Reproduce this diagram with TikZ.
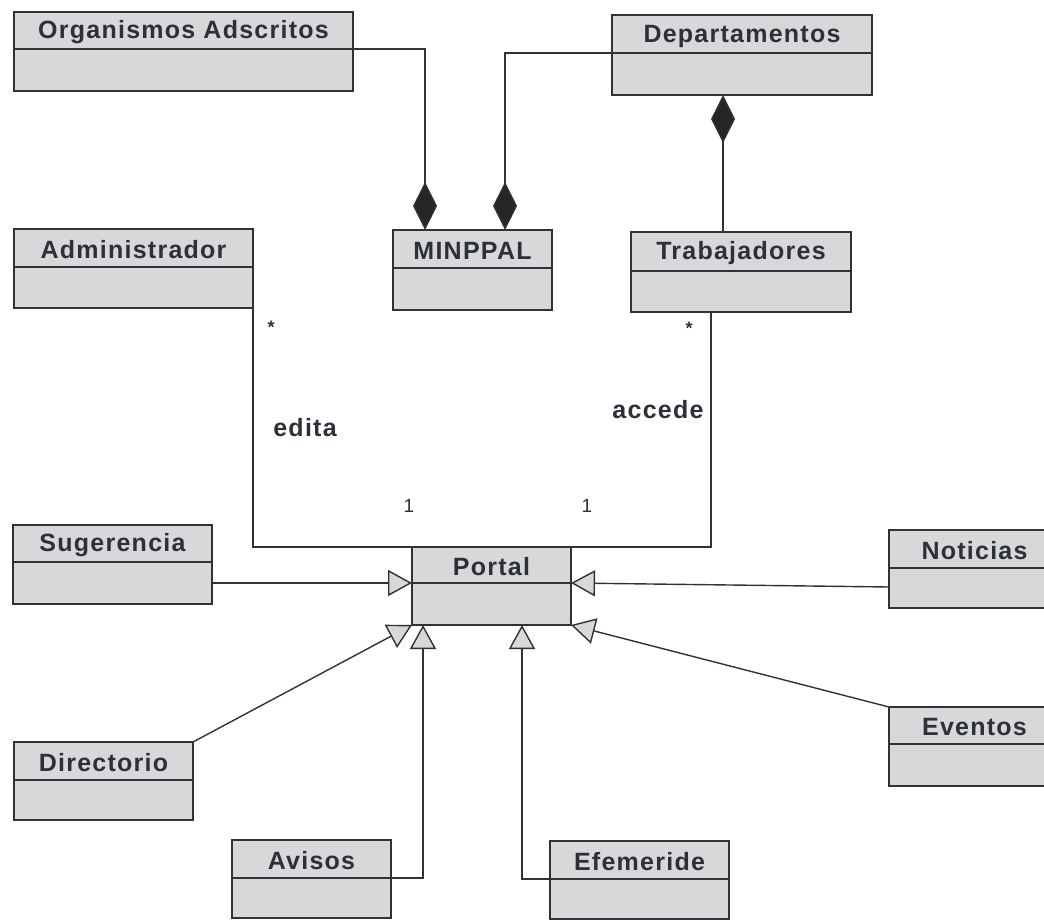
\documentclass[tikz,border=0pt]{standalone}
\usepackage{fontspec}
\setmainfont{Liberation Sans}
\usetikzlibrary{arrows.meta,calc}

\definecolor{boxfill}{RGB}{216,216,218}
\definecolor{ink}{RGB}{44,48,56}
\definecolor{wire}{RGB}{50,50,54}

\newfontfamily\titlefont[LetterSpace=5]{Liberation Sans}

\tikzset{
  classbox/.style={draw=wire, line width=1.6pt, fill=boxfill, rectangle, inner sep=0pt, outer sep=0pt},
  classline/.style={draw=wire, line width=1.6pt},
  classtitle/.style={text=ink, font=\titlefont\fontsize{25}{28}\selectfont\bfseries, inner sep=0pt},
  wireline/.style={draw=wire, line width=1.4pt},
  comp/.style={wireline, {Diamond[length=48pt,width=24pt,fill=black!85]}-},
  gen/.style={wireline, -{Triangle[length=24pt,width=26pt,fill=boxfill,line width=1.4pt]}},
  rolename/.style={text=ink, font=\titlefont\fontsize{25}{28}\selectfont\bfseries, inner sep=0pt},
  mult/.style={text=ink, font=\fontsize{19}{22}\selectfont, inner sep=0pt},
  star/.style={text=ink, font=\fontsize{18}{20}\selectfont\bfseries, inner sep=0pt},
}

% UML class: name, x1, y1, x2, y2, divider y, title
\newcommand\umlclass[7]{%
  \node[classbox, minimum width={#4-#2}, minimum height={#5-#3}] (#1) at ({(#2+#4)/2},{(#3+#5)/2}) {};
  \coordinate (#1-dw) at (#2,#6);
  \coordinate (#1-de) at (#4,#6);
  \draw[classline] (#1-dw) -- (#1-de);
  \node[classtitle] (#1-title) at ({(#2+#4)/2},{(#3+#6)/2+2}) {#7};
}

\begin{document}
\begin{tikzpicture}[x=1pt,y=-1pt]
\useasboundingbox (0,0) rectangle (1044,920);

% classes
\umlclass{org}{14}{12}{353}{91}{49}{Organismos Adscritos}
\umlclass{dep}{612}{15}{872}{95}{53}{Departamentos}
\umlclass{minppal}{393}{230}{552}{310}{268}{MINPPAL}
\umlclass{trab}{631}{232}{851}{312}{271}{Trabajadores}
\umlclass{admin}{14}{229}{253}{308}{267}{Administrador}
\umlclass{portal}{412}{547}{571}{625}{583}{Portal}
\umlclass{sug}{13}{525}{212}{604}{562}{Sugerencia}
\umlclass{not}{889}{530}{1060}{608}{568}{Noticias}
\umlclass{dir}{14}{742}{193}{820}{780}{Directorio}
\umlclass{ev}{889}{707}{1060}{786}{744}{Eventos}
\umlclass{av}{232}{840}{391}{918}{878}{Avisos}
\umlclass{efe}{550}{841}{729}{919}{879}{Efemeride}

% compositions
\draw[comp] ([xshift=32pt]minppal.north west) |- (org-de);
\draw[comp] ([xshift=112pt]minppal.north west) |- (dep-dw);
\draw[comp] ([xshift=-19pt]dep.south) -- ([xshift=-19pt]dep.south |- trab.north);

% associations
\draw[wireline] (admin.south east) |- (portal.north west);
\draw[wireline] ([xshift=-30pt]trab.south) |- (portal.north east);

\node[star] (admin-mult) at (271,327) {*};
\node[star] (trab-mult) at (689,328) {*};
\node[rolename] (edita) at (305,428) {edita};
\node[rolename] (accede) at (658,410) {accede};
\node[mult] (portal-mult-a) at (409,506) {1};
\node[mult] (portal-mult-b) at (587,506) {1};

% generalizations
\draw[gen] (sug.east |- portal-dw) -- (portal-dw);
\draw[gen] ([yshift=-18pt]not.west) -- (portal-de);
\draw[gen] (dir.north east) -- (portal.south west);
\draw[gen] (ev.north west) -- (portal.south east);
\draw[gen] (av-de) -| ([xshift=11pt]portal.south west);
\draw[gen] (efe-dw) -| ([xshift=110pt]portal.south west);
\end{tikzpicture}
\end{document}
